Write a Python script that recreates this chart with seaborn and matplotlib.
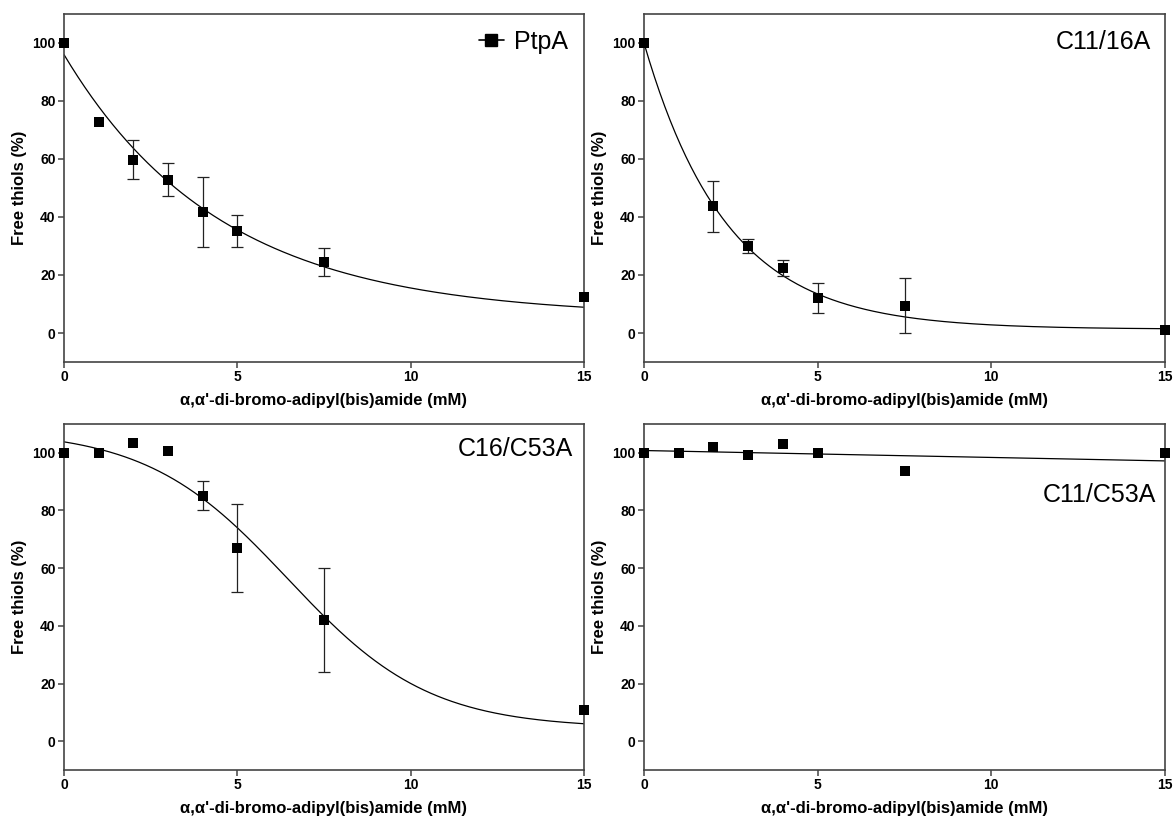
import numpy as np
import pandas as pd
import matplotlib
matplotlib.use("Agg")
import matplotlib.pyplot as plt
import seaborn as sns
from matplotlib.lines import Line2D

sns.set_style("ticks")
plt.rcParams['font.family'] = ['Liberation Sans Narrow', 'Liberation Sans', 'DejaVu Sans']
plt.rcParams['text.color'] = 'black'
plt.rcParams['axes.labelcolor'] = 'black'
plt.rcParams['xtick.color'] = 'black'
plt.rcParams['ytick.color'] = 'black'

# ---- data ----
x_ptpa = [0, 1, 2, 3, 4, 5, 7.5, 15]
y_ptpa = [100, 72.7, 59.8, 52.9, 41.8, 35.2, 24.4, 12.4]
e_ptpa = [0, 0, 6.6, 5.6, 12.0, 5.5, 4.9, 0]

x_c1116 = [0, 2, 3, 4, 5, 7.5, 15]
y_c1116 = [100, 43.7, 30.0, 22.4, 12.2, 9.4, 0.9]
e_c1116 = [0, 8.8, 2.5, 2.6, 5.2, 9.5, 0]

x_c1653 = [0, 1, 2, 3, 4, 5, 7.5, 15]
y_c1653 = [100, 100, 103.5, 100.6, 85.1, 66.9, 41.9, 10.9]
e_c1653 = [0, 0, 0, 0, 5.0, 15.3, 18.0, 0]

x_c1153 = [0, 1, 2, 3, 4, 5, 7.5, 15]
y_c1153 = [100, 100, 101.9, 99.1, 103.1, 100, 93.6, 100]
e_c1153 = [0, 0, 0, 0, 0, 0, 0, 0]

# fitted model parameters
fit_ptpa = dict(kind="decay", y0=96.0, plateau=5.6, k=0.221)
fit_c1116 = dict(kind="decay", y0=100.0, plateau=1.3, k=0.419)
fit_c1653 = dict(kind="sigmoid", top=108.0, bottom=4.5, x0=6.46, s=2.04)
fit_c1153 = dict(kind="linear", a=100.8, b=-0.24)

names = ["PtpA", "C11/16A", "C16/C53A", "C11/C53A"]
xlabel = "\u03b1,\u03b1'-di-bromo-adipyl(bis)amide (mM)"
ylabel = "Free thiols (%)"
xticks = [0, 5, 10, 15]
yticks = [0, 20, 40, 60, 80, 100]


def model(p, x):
    if p["kind"] == "decay":
        return p["plateau"] + (p["y0"] - p["plateau"]) * np.exp(-p["k"] * x)
    if p["kind"] == "sigmoid":
        return p["bottom"] + (p["top"] - p["bottom"]) / (1 + np.exp((x - p["x0"]) / p["s"]))
    return p["a"] + p["b"] * x


W, H = 1174, 821
fig = plt.figure(figsize=(W / 100, H / 100), dpi=100)
boxes = [
    (64, 14, 584, 362),
    (644, 14, 1165, 362),
    (64, 424, 584, 770),
    (644, 424, 1165, 770),
]
datasets = [
    (x_ptpa, y_ptpa, e_ptpa, fit_ptpa),
    (x_c1116, y_c1116, e_c1116, fit_c1116),
    (x_c1653, y_c1653, e_c1653, fit_c1653),
    (x_c1153, y_c1153, e_c1153, fit_c1153),
]
label_pos = [None, (0.973, 0.92), (0.979, 0.928), (0.983, 0.795)]

for i, ((l, t, r, b), (xs, ys, es, fit)) in enumerate(zip(boxes, datasets)):
    ax = fig.add_axes([l / W, 1 - b / H, (r - l) / W, (b - t) / H])
    xf = np.linspace(0, 15, 300)
    curve = pd.DataFrame({"x": xf, "y": model(fit, xf)})
    sns.lineplot(data=curve, x="x", y="y", ax=ax, color="black", linewidth=0.9, zorder=2)
    df = pd.DataFrame({"x": xs, "y": ys, "e": es})
    de = df[df["e"] > 0]
    if len(de):
        ax.errorbar(de["x"], de["y"], yerr=de["e"], fmt="none", ecolor="#222222",
                    elinewidth=0.9, capsize=4, capthick=0.9, zorder=3)
    sns.scatterplot(data=df, x="x", y="y", ax=ax, marker="s", s=60, color="black",
                    edgecolor="black", linewidth=0, zorder=4, clip_on=False)
    ax.set_xlim(0, 15)
    ax.set_ylim(-10, 110)
    ax.set_xticks(xticks)
    ax.set_yticks(yticks)
    ax.set_xticklabels([str(v) for v in xticks], fontsize=10, fontweight="bold")
    ax.set_yticklabels([str(v) for v in yticks], fontsize=10, fontweight="bold")
    ax.set_xlabel(xlabel, fontsize=12, fontweight="bold", labelpad=6)
    ax.set_ylabel(ylabel, fontsize=12, fontweight="bold", labelpad=4)
    for sp in ax.spines.values():
        sp.set_visible(True)
        sp.set_color("#444444")
        sp.set_linewidth(1.2)
    ax.tick_params(axis="both", direction="out", length=4, width=1.1, color="#444444", pad=2)
    if i == 0:
        h = Line2D([], [], color="black", marker="s", markersize=8, linewidth=1.2)
        ax.legend([h], [names[0]], loc="upper right", frameon=False,
                  prop={"family": ["Liberation Sans", "DejaVu Sans"], "size": 18},
                  handlelength=1.0, handletextpad=0.4, borderaxespad=0.25)
    else:
        px, py = label_pos[i]
        ax.text(px, py, names[i], transform=ax.transAxes, ha="right", va="center",
                fontsize=18, family=["Liberation Sans", "DejaVu Sans"])

fig.savefig("out.png", dpi=100)
